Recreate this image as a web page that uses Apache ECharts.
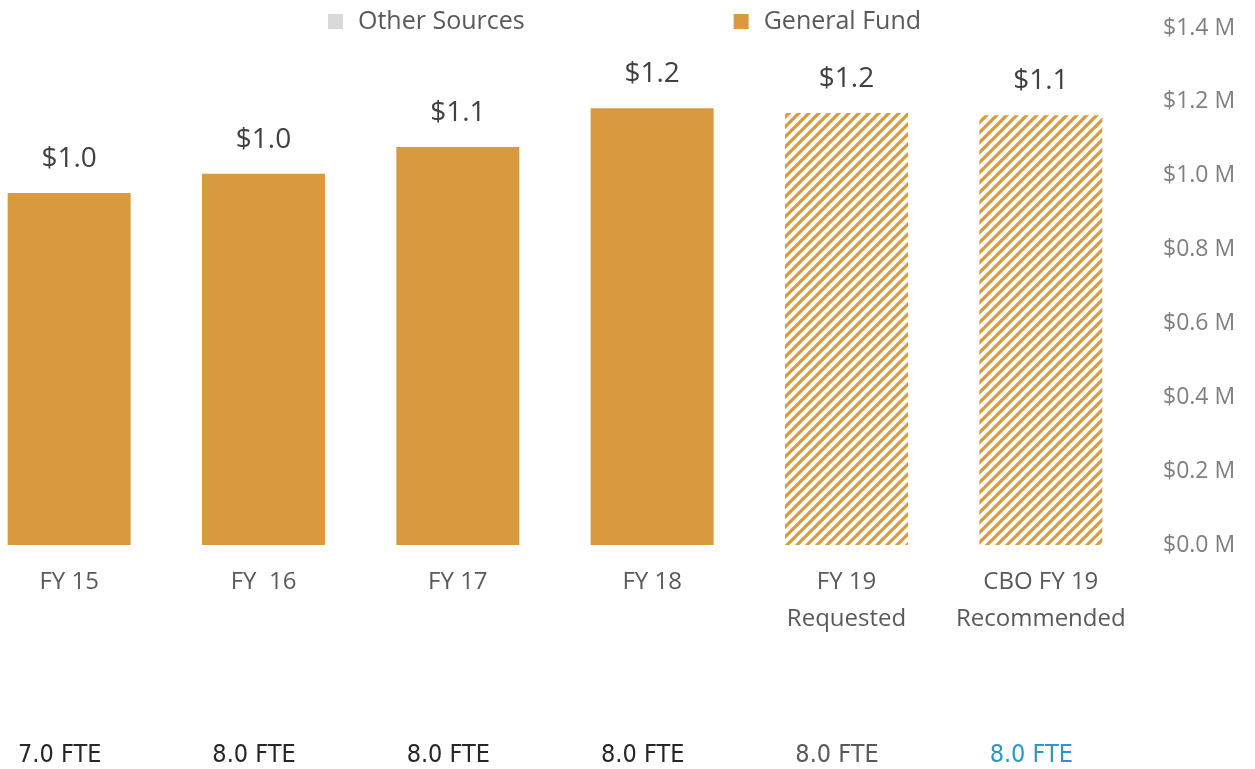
<!DOCTYPE html>
<html>
<head>
<meta charset="utf-8">
<script src="https://cdn.jsdelivr.net/npm/echarts@6/dist/echarts.min.js"></script>
<style>
    html, body { margin: 0; padding: 0; background: #fff; overflow: hidden; }
    /* 图表左侧需要伸出画面外一点 */
    #main { width: 1283px; height: 769px; margin-left: -28px; }
</style>
</head>
<body>
<div id="main"></div>
<script>
// 数据
const categories = ['FY 15', 'FY  16', 'FY 17', 'FY 18', 'FY 19\nRequested', 'CBO FY 19\nRecommended']
const generalFund = [0.953, 1.005, 1.078, 1.183, 1.170, 1.164]
const otherSources = [0, 0, 0, 0, 0, 0]
const valueLabels = ['$1.0', '$1.0', '$1.1', '$1.2', '$1.2', '$1.1']
const fteLabels = ['7.0 FTE', '8.0 FTE', '8.0 FTE', '8.0 FTE', '8.0 FTE', '8.0 FTE']
const fteStyles = ['dark', 'dark', 'dark', 'dark', 'gray', 'blue']
const hatched = [false, false, false, false, true, true]

const gold = '#D9993F'

// 斜线填充
function makeStripes() {
    const p = 10
    const c = document.createElement('canvas')
    c.width = p
    c.height = p
    const ctx = c.getContext('2d')
    ctx.fillStyle = '#fff'
    ctx.fillRect(0, 0, p, p)
    ctx.strokeStyle = gold
    ctx.lineWidth = 3.2
    ctx.beginPath()
    ctx.moveTo(-2, p + 2); ctx.lineTo(p + 2, -2)
    ctx.moveTo(-2, 2); ctx.lineTo(2, -2)
    ctx.moveTo(p - 2, p + 2); ctx.lineTo(p + 2, p - 2)
    ctx.stroke()
    return c
}
const stripes = { image: makeStripes(), repeat: 'repeat' }

const mychart = echarts.init(document.getElementById('main'))

let option = {
    animation: false,
    legend: {
        data: ['Other Sources', 'General Fund'],
        top: 4,
        left: 351,
        icon: 'rect',
        itemWidth: 15,
        itemHeight: 15,
        itemGap: 209,
        textStyle: { color: '#595959', fontSize: 25, fontFamily: 'Open Sans', padding: [0, 0, 0, 10] },
    },
    grid: { left: 0, right: 117, top: 28, bottom: 224, containLabel: false },
    xAxis: [
        {
            type: 'category',
            data: categories,
            axisLine: { show: false },
            axisTick: { show: false },
            axisLabel: {
                interval: 0,
                color: '#595959',
                fontSize: 24,
                fontFamily: 'Open Sans',
                lineHeight: 37,
                margin: 19,
            },
        },
        {
            type: 'category',
            position: 'bottom',
            offset: 198,
            data: fteLabels,
            axisLine: { show: false },
            axisTick: { show: false },
            axisLabel: {
                interval: 0,
                margin: 0,
                padding: [0, 19, 0, 0],
                formatter: (v, i) => '{' + fteStyles[i] + '|' + v + '}',
                rich: {
                    dark: { color: '#262626', fontSize: 25, fontFamily: 'DejaVu Sans Condensed' },
                    gray: { color: '#595959', fontSize: 25, fontFamily: 'DejaVu Sans Condensed' },
                    blue: { color: '#2E95C8', fontSize: 25, fontFamily: 'DejaVu Sans Condensed' },
                },
            },
        },
    ],
    yAxis: {
        type: 'value',
        position: 'right',
        min: 0,
        max: 1.4,
        interval: 0.2,
        splitLine: { show: false },
        axisLine: { show: false },
        axisTick: { show: false },
        axisLabel: {
            color: '#7F7F7F',
            fontSize: 23,
            fontFamily: 'Open Sans',
            margin: 25,
            formatter: v => '$' + v.toFixed(1) + ' M',
        },
    },
    series: [
        {
            name: 'Other Sources',
            type: 'bar',
            stack: 'total',
            barWidth: 123,
            itemStyle: { color: '#D9D9D9' },
            data: otherSources,
        },
        {
            name: 'General Fund',
            type: 'bar',
            stack: 'total',
            barWidth: 123,
            itemStyle: { color: gold },
            label: {
                show: true,
                position: 'top',
                distance: 20,
                color: '#404040',
                fontSize: 28,
                fontFamily: 'Open Sans',
                formatter: p => valueLabels[p.dataIndex],
            },
            data: generalFund.map((v, i) => (hatched[i] ? { value: v, itemStyle: { color: stripes } } : v)),
        },
    ],
}

mychart.setOption(option)
</script>
</body>
</html>
